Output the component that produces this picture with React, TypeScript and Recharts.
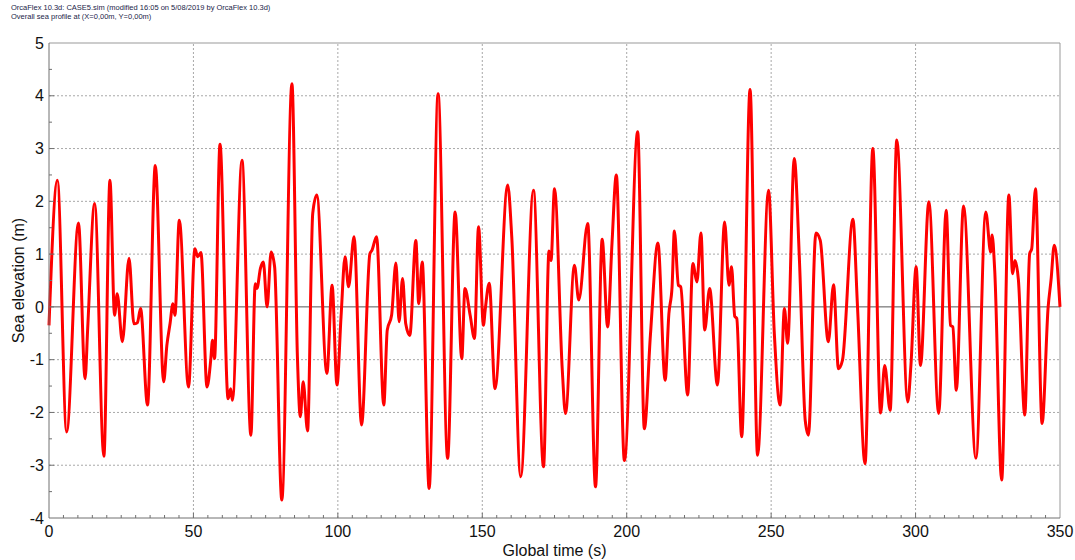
import React from "react";
import { LineChart, Line, XAxis, YAxis, ReferenceLine } from "recharts";

// Sea surface elevation at (0,0) over the simulation, crests and troughs
const timeS = [
  0, 2.9, 6.1, 10.2, 12.5, 13.4, 15.8, 19.0, 21.1, 22.7, 23.6, 25.4, 27.7, 29.4, 30.6, 31.7,
  34.1, 36.8, 39.7, 40.8, 41.9, 42.9, 43.6, 45.1, 48.3, 50.5, 51.5, 52.6, 54.7, 56.0, 56.6, 57.3,
  59.2, 62.0, 62.9, 63.5, 66.8, 69.9, 71.4, 72.0, 73.2, 74.2, 75.5, 76.9, 78.1, 80.6, 84.1, 86.0,
  87.0, 88.0, 89.5, 91.3, 92.7, 96.2, 98.0, 99.7, 101.1, 102.5, 103.7, 105.6, 108.2, 111.1, 111.8,
  113.4, 115.9, 117.1, 118.6, 120.1, 121.2, 122.4, 123.5, 124.9, 127.0, 128.0, 129.2, 131.6, 134.7,
  138.0, 140.6, 142.9, 144.0, 145.8, 147.3, 148.7, 150.4, 151.0, 152.4, 154.4, 158.8, 160.2, 163.3,
  167.7, 171.2, 173.1, 173.8, 175.0, 177.7, 178.8, 181.9, 183.4, 186.5, 189.2, 191.5, 193.4, 194.9,
  196.4, 199.2, 203.8, 206.1, 208.2, 210.8, 213.3, 214.6, 215.7, 216.5, 217.9, 218.7, 221.1, 222.9,
  224.3, 225.7, 227.0, 228.7, 231.4, 233.9, 235.4, 236.3, 237.4, 238.1, 239.8, 242.7, 245.3, 249.1,
  251.1, 253.1, 254.6, 255.7, 258.0, 259.8, 261.8, 262.9, 265.5, 267.0, 269.8, 271.6, 273.3, 274.7,
  278.3, 279.9, 282.5, 285.2, 287.9, 289.3, 291.2, 293.5, 297.3, 298.4, 300.2, 301.7, 304.6, 308.0,
  310.6, 312.1, 312.9, 314.1, 316.6, 320.9, 324.3, 326.0, 326.5, 327.4, 329.8, 332.3, 333.6, 334.4,
  335.6, 337.8, 339.5, 340.2, 341.5, 343.8, 345.9, 346.9, 348.0, 350,
];

const elevationM = [
  -0.35, 2.4, -2.37, 1.59, -1.36, -0.4, 1.96, -2.83, 2.4, -0.16, 0.25, -0.66, 0.92, -0.32, -0.3, -0.03,
  -1.86, 2.68, -1.42, -0.73, -0.32, 0.06, -0.16, 1.64, -1.52, 1.1, 0.95, 1.03, -1.52, -1.0, -0.63, -0.98,
  3.08, -1.74, -1.55, -1.77, 2.78, -2.43, 0.44, 0.35, 0.73, 0.85, 0.0, 1.04, 0.76, -3.66, 4.23, -0.95,
  -2.08, -1.42, -2.35, 1.77, 2.12, -1.26, 0.41, -1.48, -0.19, 0.95, 0.38, 1.33, -2.24, 1.01, 1.07,
  1.33, -1.86, -0.44, -0.16, 0.83, -0.28, 0.54, -0.32, -0.54, 1.26, 0.06, 0.85, -3.44, 4.04,
  -2.87, 1.8, -0.98, 0.35, -0.16, -0.6, 1.52, -0.35, -0.06, 0.45, -1.55, 2.31, 1.33, -3.22,
  2.21, -3.03, 1.06, 0.88, 2.24, -1.2, -2.02, 0.79, 0.13, 1.58, -3.41, 1.28, -0.38, 1.2,
  2.5, -2.91, 3.32, -2.31, -0.54, 1.21, -1.39, -0.13, 0.38, 1.44, 0.41, 0.38, -1.67, 0.82,
  0.47, 1.4, -0.44, 0.35, -1.48, 1.61, 0.41, 0.76, -0.18, -0.22, -2.46, 4.12, -2.81, 2.21,
  -0.5, -1.86, -0.03, -0.69, 2.81, 0.88, -2.15, -2.43, 1.4, 1.26, -0.66, 0.42, -1.17, -1.01,
  1.66, 0.0, -2.97, 3.0, -2.01, -1.11, -1.96, 3.16, -1.8, -1.1, 0.76, -1.11, 1.99, -2.02,
  1.83, -0.35, -0.38, -1.58, 1.91, -2.87, 1.8, 1.04, 1.36, 0.69, -3.28, 2.12, 0.63, 0.88,
  0.51, -2.05, 1.01, 1.1, 2.24, -2.21, 0.0, 0.51, 1.17, 0.0,
];

const xTickLabels = [0, 50, 100, 150, 200, 250, 300, 350];
const yTickLabels = [-4, -3, -2, -1, 0, 1, 2, 3, 4, 5];
const headerLines = [
  "OrcaFlex 10.3d: CASE5.sim (modified 16:05 on 5/08/2019 by OrcaFlex 10.3d)",
  "Overall sea profile at (X=0,00m, Y=0,00m)",
];

const data = timeS.map((t, i) => ({ time: t, elevation: elevationM[i] }));

// minor tick marks: every 5 s along x, every 0.5 m along y
const xTicks = Array.from({ length: 71 }, (_, i) => i * 5);
const yTicks = Array.from({ length: 19 }, (_, i) => -4 + i * 0.5);

const FONT = "Arial, 'Liberation Sans', sans-serif";
const TICK_MARGIN_X = 8;
const TICK_MARGIN_Y = 5;
const GRID = "#a8a8a8";
const AXIS = "#707070";

function TimeTick(props: any) {
  const { x, y, payload } = props;
  const v = payload.value as number;
  const axisY = y - TICK_MARGIN_X;
  const major = xTickLabels.includes(v);
  return (
    <g>
      {v > 0 && v < 350 && (
        <line x1={x} x2={x} y1={axisY} y2={axisY - (major ? 5 : 3)} stroke={AXIS} />
      )}
      {major && (
        <text x={x} y={y} dy="0.71em" textAnchor="middle" fontSize={16} fontFamily={FONT} fill="#111">
          {v}
        </text>
      )}
    </g>
  );
}

function ElevationTick(props: any) {
  const { x, y, payload } = props;
  const v = payload.value as number;
  const axisX = x + TICK_MARGIN_Y;
  const major = yTickLabels.includes(v);
  return (
    <g>
      {v > -4 && v < 5 && (
        <line x1={axisX} x2={axisX + (major ? 5 : 3)} y1={y} y2={y} stroke={AXIS} />
      )}
      {major && (
        <text x={x} y={y} dy="0.355em" textAnchor="end" fontSize={16} fontFamily={FONT} fill="#111">
          {v}
        </text>
      )}
    </g>
  );
}

export default function App() {
  return (
    <div style={{ position: "absolute", left: 0, top: 0, width: 1075, height: 560, background: "#fff" }}>
      <div
        style={{
          position: "absolute",
          left: 11,
          top: 3,
          fontFamily: FONT,
          fontSize: 7.5,
          lineHeight: "9px",
          color: "#1a2448",
          whiteSpace: "pre",
        }}
      >
        {headerLines.map((l) => (
          <div key={l}>{l}</div>
        ))}
      </div>
      <LineChart width={1075} height={560} data={data} margin={{ top: 43, right: 15, bottom: 0, left: 0 }}>
        <XAxis
          dataKey="time"
          type="number"
          domain={[0, 350]}
          ticks={xTicks}
          interval={0}
          tickSize={0}
          tickMargin={TICK_MARGIN_X}
          tick={<TimeTick />}
          height={42}
          stroke={AXIS}
          label={{
            value: "Global time (s)",
            position: "insideBottom",
            offset: 4,
            fontSize: 16,
            fontFamily: FONT,
            fill: "#111",
          }}
        />
        <YAxis
          type="number"
          domain={[-4, 5]}
          ticks={yTicks}
          interval={0}
          tickSize={0}
          tickMargin={TICK_MARGIN_Y}
          tick={<ElevationTick />}
          width={49}
          stroke={AXIS}
          label={{
            value: "Sea elevation (m)",
            angle: -90,
            position: "insideLeft",
            offset: 18,
            fontSize: 16,
            fontFamily: FONT,
            fill: "#111",
            style: { textAnchor: "middle" },
          }}
        />
        {xTickLabels.slice(1, -1).map((t) => (
          <ReferenceLine key={`gx${t}`} x={t} stroke={GRID} strokeDasharray="2 2" />
        ))}
        {yTickLabels
          .filter((v) => v !== 0 && v !== -4 && v !== 5)
          .map((v) => (
            <ReferenceLine key={`gy${v}`} y={v} stroke={GRID} strokeDasharray="2 2" />
          ))}
        <ReferenceLine y={5} stroke="#999" />
        <ReferenceLine x={350} stroke="#999" />
        <ReferenceLine y={0} stroke="#555" />
        <Line
          type="monotone"
          dataKey="elevation"
          stroke="#ff0000"
          strokeWidth={3}
          dot={false}
          isAnimationActive={false}
        />
      </LineChart>
    </div>
  );
}
